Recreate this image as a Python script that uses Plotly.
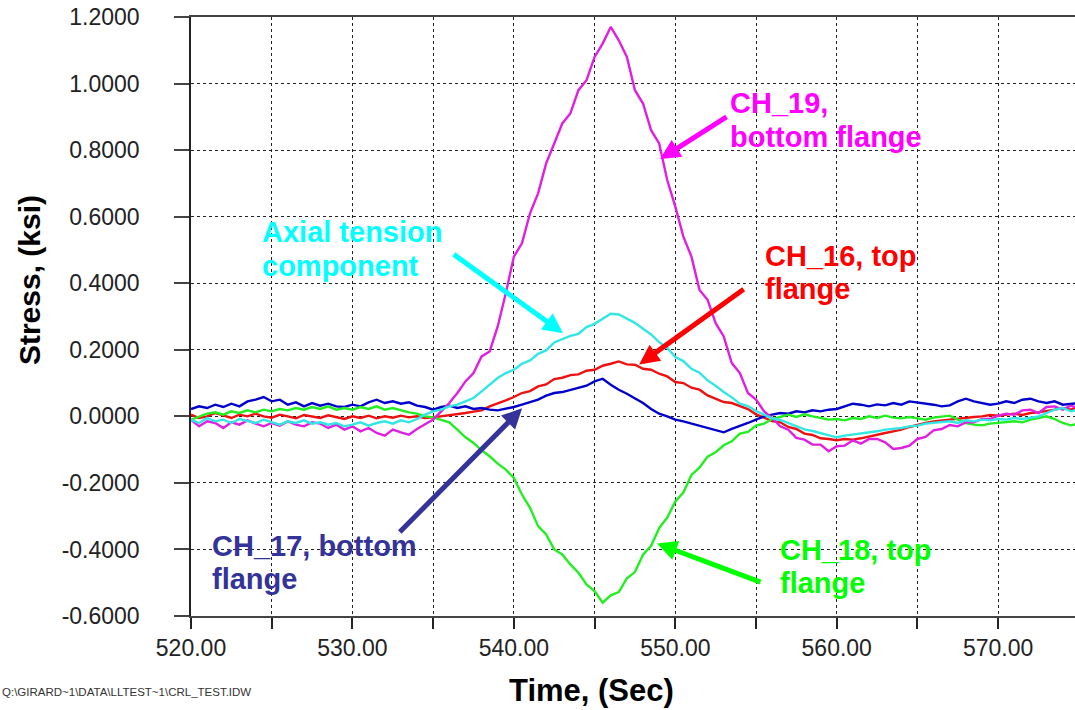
import plotly.graph_objects as go

# Sampling grid (seconds)
t_start = 520.0
t_step = 0.5
n_samples = 111
time_s = [t_start + t_step * i for i in range(n_samples)]

# Stress readings (ksi)
ch19_bottom = [
    -0.010, -0.030, -0.015, -0.020, -0.035, -0.018, -0.025, -0.012, -0.022, -0.030,
    -0.020, -0.028, -0.015, -0.025, -0.030, -0.018, -0.022, -0.035, -0.025, -0.040,
    -0.030, -0.045, -0.035, -0.050, -0.058, -0.040, -0.048, -0.055, -0.038, -0.025,
    -0.010, 0.015, 0.040, 0.070, 0.105, 0.130, 0.180, 0.195, 0.270, 0.370,
    0.480, 0.520, 0.610, 0.670, 0.760, 0.820, 0.880, 0.910, 0.980, 1.010,
    1.080, 1.120, 1.170, 1.130, 1.080, 0.980, 0.940, 0.860, 0.820, 0.710,
    0.630, 0.540, 0.480, 0.380, 0.350, 0.280, 0.240, 0.160, 0.130, 0.070,
    0.050, 0.015, -0.005, -0.030, -0.040, -0.065, -0.070, -0.085, -0.085, -0.105,
    -0.090, -0.088, -0.072, -0.082, -0.068, -0.068, -0.078, -0.098, -0.095, -0.088,
    -0.068, -0.062, -0.042, -0.038, -0.026, -0.030, -0.018, -0.018, -0.008, -0.008,
    0.002, 0.008, 0.005, 0.018, 0.020, 0.010, 0.028, 0.030, 0.020, 0.032,
    0.025,
]

axial_tension = [
    -0.010, -0.020, -0.005, -0.015, -0.010, -0.020, -0.008, -0.015, -0.020, -0.010,
    -0.018, -0.025, -0.015, -0.020, -0.012, -0.022, -0.018, -0.025, -0.020, -0.030,
    -0.025, -0.018, -0.028, -0.020, -0.015, -0.022, -0.012, -0.018, -0.008, 0.005,
    0.015, 0.020, 0.030, 0.035, 0.045, 0.055, 0.075, 0.095, 0.115, 0.130,
    0.140, 0.158, 0.168, 0.188, 0.198, 0.222, 0.232, 0.242, 0.248, 0.268,
    0.278, 0.292, 0.308, 0.306, 0.293, 0.281, 0.263, 0.246, 0.223, 0.206,
    0.178, 0.166, 0.143, 0.131, 0.108, 0.092, 0.073, 0.057, 0.038, 0.031,
    0.016, 0.006, -0.006, -0.011, -0.021, -0.029, -0.039, -0.044, -0.051, -0.057,
    -0.063, -0.058, -0.055, -0.050, -0.048, -0.045, -0.040, -0.038, -0.035, -0.030,
    -0.028, -0.022, -0.020, -0.018, -0.015, -0.020, -0.012, -0.015, -0.010, -0.012,
    -0.008, -0.010, -0.005, -0.008, -0.003, 0.000, 0.010, 0.020, 0.025, 0.015,
    0.020,
]

ch16_top = [
    0.005, -0.005, 0.000, 0.010, 0.003, -0.005, 0.005, 0.000, 0.008, 0.000,
    -0.004, 0.005, 0.000, -0.006, 0.004, 0.000, -0.005, 0.003, -0.002, -0.008,
    0.000, -0.005, 0.002, -0.006, 0.000, -0.004, 0.002, -0.003, 0.000, -0.005,
    -0.003, 0.000, 0.002, 0.006, 0.010, 0.014, 0.018, 0.030, 0.038, 0.048,
    0.058, 0.070, 0.076, 0.090, 0.096, 0.112, 0.116, 0.124, 0.126, 0.137,
    0.140, 0.152, 0.158, 0.165, 0.156, 0.155, 0.143, 0.140, 0.128, 0.120,
    0.103, 0.100, 0.086, 0.080, 0.063, 0.054, 0.043, 0.040, 0.031, 0.022,
    0.006, -0.003, -0.014, -0.018, -0.032, -0.038, -0.052, -0.056, -0.066, -0.068,
    -0.072, -0.068, -0.070, -0.066, -0.060, -0.055, -0.050, -0.045, -0.040, -0.032,
    -0.025, -0.020, -0.015, -0.012, -0.010, -0.006, -0.004, -0.002, 0.000, 0.004,
    0.002, 0.006, 0.008, 0.004, 0.010, 0.012, 0.015, 0.020, 0.025, 0.020,
    0.030,
]

ch17_bottom = [
    0.022, 0.030, 0.025, 0.035, 0.028, 0.038, 0.030, 0.045, 0.050, 0.058,
    0.045, 0.050, 0.035, 0.042, 0.030, 0.040, 0.032, 0.038, 0.030, 0.028,
    0.035, 0.030, 0.042, 0.050, 0.040, 0.045, 0.038, 0.042, 0.032, 0.028,
    0.020, 0.028, 0.032, 0.025, 0.030, 0.022, 0.025, 0.020, 0.018, 0.022,
    0.028, 0.035, 0.042, 0.050, 0.062, 0.070, 0.073, 0.080, 0.085, 0.092,
    0.105, 0.113, 0.095, 0.080, 0.068, 0.055, 0.040, 0.022, 0.008, 0.000,
    -0.010, -0.015, -0.022, -0.027, -0.035, -0.042, -0.048, -0.038, -0.030, -0.020,
    -0.010, 0.000, 0.005, 0.010, 0.008, 0.015, 0.012, 0.018, 0.015, 0.020,
    0.022, 0.030, 0.038, 0.035, 0.030, 0.036, 0.033, 0.040, 0.035, 0.045,
    0.042, 0.038, 0.035, 0.030, 0.033, 0.045, 0.053, 0.045, 0.040, 0.035,
    0.038, 0.045, 0.040, 0.050, 0.053, 0.045, 0.040, 0.045, 0.035, 0.038,
    0.040,
]

ch18_top = [
    -0.010, 0.000, 0.008, 0.012, 0.005, 0.015, 0.010, 0.018, 0.012, 0.020,
    0.015, 0.022, 0.018, 0.025, 0.020, 0.028, 0.022, 0.030, 0.020, 0.025,
    0.020, 0.028, 0.022, 0.030, 0.020, 0.025, 0.018, 0.012, 0.008, 0.000,
    -0.003, -0.010, -0.018, -0.040, -0.063, -0.080, -0.102, -0.120, -0.142, -0.160,
    -0.185, -0.235, -0.275, -0.330, -0.355, -0.400, -0.415, -0.445, -0.470, -0.505,
    -0.525, -0.560, -0.538, -0.528, -0.487, -0.468, -0.416, -0.389, -0.336, -0.304,
    -0.256, -0.229, -0.176, -0.154, -0.121, -0.108, -0.087, -0.075, -0.052, -0.047,
    -0.028, -0.022, -0.008, -0.002, 0.005, -0.002, 0.006, 0.000, -0.005, -0.010,
    -0.008, -0.012, -0.005, -0.008, 0.000, -0.005, 0.002, -0.004, -0.006, -0.002,
    -0.006, -0.010, -0.004, 0.000, 0.002, -0.010, -0.020, -0.025, -0.027, -0.022,
    -0.020, -0.018, -0.015, -0.018, -0.010, -0.005, 0.000, -0.008, -0.020, -0.027,
    -0.022,
]

x_tick_vals = [520, 525, 530, 535, 540, 545, 550, 555, 560, 565, 570]
x_tick_text = ["520.00", "", "530.00", "", "540.00", "", "550.00", "", "560.00", "", "570.00"]
y_tick_vals = [-0.6, -0.4, -0.2, 0.0, 0.2, 0.4, 0.6, 0.8, 1.0, 1.2]
y_tick_text = ["-0.6000", "-0.4000", "-0.2000", "0.0000", "0.2000",
               "0.4000", "0.6000", "0.8000", "1.0000", "1.2000"]

series = [
    ("CH_16", ch16_top, "#EE1111"),
    ("CH_17", ch17_bottom, "#0000CC"),
    ("CH_18", ch18_top, "#22EE22"),
    ("CH_19", ch19_bottom, "#E020E0"),
    ("Axial", axial_tension, "#33E6E6"),
]

fig = go.Figure()
for name, vals, color in series:
    fig.add_trace(go.Scatter(x=time_s, y=vals, mode="lines", name=name,
                             line=dict(color=color, width=2.4)))

label_font = "Arial, 'Liberation Sans', sans-serif"

# Callout arrows: (head x, head y, tail x, tail y, color)
arrows = [
    (549.06, 0.773, 553.27, 0.903, "#FF00FF"),
    (543.05, 0.250, 536.18, 0.490, "#00FFFF"),
    (547.76, 0.156, 554.33, 0.385, "#FF0000"),
    (540.51, 0.024, 532.84, -0.352, "#333399"),
    (548.87, -0.382, 555.37, -0.500, "#00FF00"),
]
for hx, hy, ax, ay, color in arrows:
    fig.add_annotation(x=hx, y=hy, ax=ax, ay=ay, xref="x", yref="y",
                       axref="x", ayref="y", text="", showarrow=True,
                       arrowhead=2, arrowsize=0.8, arrowwidth=5, arrowcolor=color)

# Callout text lines: (text, left x, center y, color)
callout_lines = [
    ("CH_19,", 553.24, 0.942, "#FF00FF"),
    ("bottom flange", 553.24, 0.840, "#FF00FF"),
    ("Axial tension", 524.26, 0.554, "#00FFFF"),
    ("component", 524.26, 0.451, "#00FFFF"),
    ("CH_16, top", 555.42, 0.481, "#FF0000"),
    ("flange", 555.42, 0.382, "#FF0000"),
    ("CH_17, bottom", 521.17, -0.391, "#333399"),
    ("flange", 521.17, -0.488, "#333399"),
    ("CH_18, top", 556.35, -0.403, "#00FF00"),
    ("flange", 556.35, -0.500, "#00FF00"),
]
for text, tx, ty, color in callout_lines:
    fig.add_annotation(x=tx, y=ty, xref="x", yref="y", text=text, showarrow=False,
                       xanchor="left", yanchor="middle", align="left",
                       font=dict(family=label_font, size=29, color=color, weight="bold"))

# Axis titles and file reference
fig.add_annotation(x=-0.182, y=0.561, xref="paper", yref="paper", text="Stress, (ksi)",
                   textangle=-90, showarrow=False, xanchor="center", yanchor="middle",
                   font=dict(family=label_font, size=30, color="#000", weight="bold"))
fig.add_annotation(x=0.453, y=-0.125, xref="paper", yref="paper", text="Time, (Sec)",
                   showarrow=False, xanchor="center", yanchor="middle",
                   font=dict(family=label_font, size=31, color="#000", weight="bold"))
fig.add_annotation(x=-0.2155, y=-0.1275, xref="paper", yref="paper",
                   text="Q:\\GIRARD~1\\DATA\\LLTEST~1\\CRL_TEST.IDW",
                   showarrow=False, xanchor="left", yanchor="middle",
                   font=dict(family=label_font, size=11.5, color="#333"))

fig.update_layout(
    width=1075, height=710,
    margin=dict(l=191, r=0, t=17, b=94, pad=0),
    paper_bgcolor="white", plot_bgcolor="white",
    showlegend=False,
    font=dict(family=label_font, color="#222"),
)
fig.update_xaxes(
    range=[520, 574.76], tickmode="array", tickvals=x_tick_vals, ticktext=x_tick_text,
    showgrid=True, gridcolor="#222", griddash="3px,3px", gridwidth=1,
    showline=True, linecolor="#444", linewidth=1.5, mirror=True,
    ticks="outside", ticklen=11, tickcolor="#222", tickwidth=1.5,
    tickfont=dict(size=23, color="#222"), ticklabelstandoff=0, zeroline=False,
)
fig.update_yaxes(
    range=[-0.6, 1.2], tickmode="array", tickvals=y_tick_vals, ticktext=y_tick_text,
    showgrid=True, gridcolor="#222", griddash="3px,3px", gridwidth=1,
    showline=True, linecolor="#222", linewidth=1.5,
    ticks="outside", ticklen=15, tickcolor="#444", tickwidth=2,
    tickfont=dict(size=23, color="#222"), ticklabelstandoff=30, zeroline=False,
)

fig.write_html("out.html")
